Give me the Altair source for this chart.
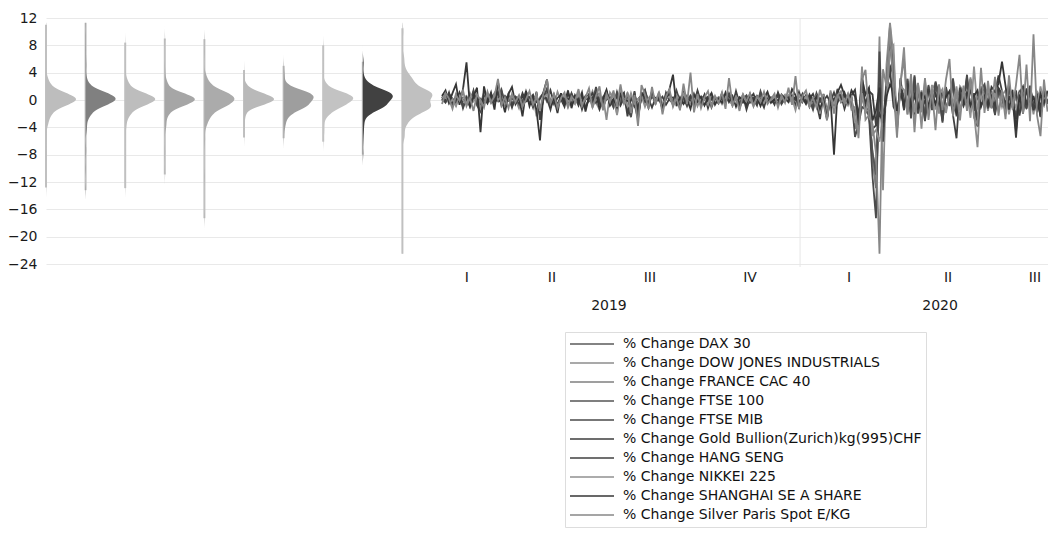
import altair as alt
import pandas as pd

series_names = [
    "% Change DAX 30",
    "% Change DOW JONES INDUSTRIALS",
    "% Change FRANCE CAC 40",
    "% Change FTSE 100",
    "% Change FTSE MIB",
    "% Change Gold Bullion(Zurich)kg(995)CHF",
    "% Change HANG SENG",
    "% Change NIKKEI 225",
    "% Change SHANGHAI SE A SHARE",
    "% Change Silver Paris Spot E/KG",
]
line_colors = ["#5a5a5a", "#8c8c8c", "#7f7f7f", "#555555", "#4a4a4a",
               "#3d3d3d", "#404040", "#909090", "#363636", "#878787"]
density_fills = ["#bdbdbd", "#808080", "#bdbdbd", "#a6a6a6", "#ababab",
                 "#b9b9b9", "#9e9e9e", "#c3c3c3", "#414141", "#c0c0c0"]

dax = [0.2, -0.1, 0.9, -0.5, 0.1, 0.6, -1.0, 0.3, -0.2, 1.2, -0.4, -1.4, 0.0, 0.3, -0.2, 0.8, 0.1, 1.3, -0.6, 0.2,
       -0.8, 0.4, 0.0, -0.3, 1.0, -0.1, -0.7, 0.5, -1.6, 0.2, 1.4, -0.3, 0.1, -1.0, 0.6, 0.0, -0.4, 0.9, -0.2, 0.3,
       -1.1, 0.1, 0.7, -0.2, 1.5, 0.0, -0.9, 0.3, 0.1, -0.6, 1.0, -0.2, 0.5, -1.3, -1.8, 1.1, -2.1, 0.4, 1.3, -0.3,
       0.6, -0.1, 0.2, -0.9, 0.8, 0.0, -0.4, 1.1, -0.2, 0.3, -0.7, 0.4, 0.0, 0.9, -0.5, 0.1, 0.3, -0.8, 0.2, -0.1,
       0.5, -0.3, 0.8, 0.0, 0.3, -0.9, 0.1, 0.5, -0.3, 0.0, -0.5, 1.0, -0.1, 0.4, -0.2, 0.1, 0.7, -0.4, 0.2, 0.3,
       -0.1, 0.2, -0.8, 0.6, -0.3, 0.1, -1.2, 0.8, -0.2, 0.4, -2.7, 0.9, -0.5, 1.3, -0.1, 0.5, -0.3, 0.2, -4.0, -3.2,
       1.5, -1.5, -1.9, -7.9, -12.8, 0.8, -5.3, 2.2, 11.0, 1.8, -3.6, 3.0, -1.2, 2.6, -2.4, 3.4, -1.8, 1.1, -2.9, 2.0,
       -1.3, 2.5, 0.6, -3.1, 1.7, -0.8, 2.9, -2.2, 1.2, -0.5, 3.4, -1.6, 0.9, -3.6, 1.4, 2.1, -1.1, 0.5, -2.0, 1.6,
       0.3, -1.4, 2.2, -0.7, -2.6, 1.0, 0.4, -1.2, 1.9, -0.6, 0.8, -2.3, 1.3, -0.4]
dow = [-0.2, 0.5, 0.1, -0.8, 0.9, 0.0, 0.3, 0.6, -1.0, 0.1, 0.4, -0.5, 1.1, -0.1, 0.2, -0.6, 0.7, 0.0, -0.3, 1.0,
       -0.4, 0.1, -1.2, 0.6, 0.0, 0.3, 0.7, -2.4, 0.4, 1.0, -0.3, 0.1, -0.7, 1.2, -0.1, 0.5, -1.1, 0.2, 0.6, -0.2,
       0.7, -0.9, 0.1, 1.3, -0.4, -1.4, 0.6, -2.9, 1.1, 0.3, -2.0, 1.4, -0.5, 1.0, -0.1, 0.4, -1.0, 0.8, 0.0, -0.6,
       0.9, -0.2, 0.5, -0.8, 0.1, 1.1, -0.4, 0.0, -1.2, 0.6, 0.2, -0.3, 1.0, 0.0, 0.4, -0.7, 0.1, 0.8, -0.2, 0.3,
       -0.6, 0.4, 0.0, -0.3, 0.9, -0.1, 0.2, -0.5, 0.8, 0.0, -0.2, 0.5, -0.8, 0.3, 0.1, -0.4, 1.0, 0.0, 0.2, 0.7,
       -0.3, 0.1, -0.8, 0.9, -0.2, 0.4, -1.5, 0.8, 0.0, -0.5, -2.1, 1.4, -0.4, 0.6, 0.1, -0.2, 0.9, -0.1, -3.6, -4.4,
       4.9, -2.9, -2.2, -7.8, -10.0, 9.3, -13.2, 5.2, 11.3, 6.4, -4.4, 2.2, 7.7, -1.8, 3.4, -2.6, 1.9, -4.2, 2.8, -1.4,
       1.6, 2.4, -2.0, 1.1, -1.5, 0.7, 3.2, -1.1, 2.0, 1.3, -0.6, 1.7, -1.9, -6.9, 2.0, 0.9, -1.6, 1.3, -0.7, 1.1,
       -1.0, 0.6, 1.5, -0.9, 0.4, -1.3, 2.0, -0.5, 0.8, -2.1, 1.2, 0.3, -0.8, 1.4]
cac = [0.1, -0.4, 0.8, 0.2, -0.5, 1.0, -0.1, 0.4, -0.9, 0.6, 0.0, -1.1, 0.3, -0.2, 0.8, 0.0, 1.1, -0.6, 0.1, 0.4,
       -0.7, 0.2, 0.5, -0.1, 0.9, -0.4, 0.0, 0.3, -1.6, 0.4, 1.2, -0.6, 0.1, -0.8, 0.4, 0.2, -0.3, 0.8, 0.0, 0.1,
       -1.0, 0.3, 0.6, -0.2, 1.4, -0.6, -0.4, 0.2, 0.0, -1.1, 0.9, -0.1, 0.7, -1.2, -2.0, 0.9, -1.8, 0.4, 1.1, -0.2,
       0.5, -0.3, 0.4, -0.9, 0.6, 0.2, -0.1, 1.0, -0.5, 0.1, -0.4, 0.7, 0.0, 0.6, -0.8, 0.3, 0.2, -0.6, 0.4, 0.0,
       0.3, -0.2, 0.6, -0.4, 0.1, -0.8, 0.4, 0.2, -0.1, 0.3, -0.4, 0.9, -0.3, 0.2, 0.0, 0.1, 0.5, -0.3, 0.0, 0.2,
       -0.2, 0.4, -0.7, 0.3, -0.5, 0.2, -1.0, 0.6, 0.0, 0.3, -2.6, 1.0, -0.4, 1.1, -0.3, 0.7, -0.2, 0.1, -4.1, -3.4,
       0.5, -1.8, -1.6, -8.4, -12.9, 1.8, -5.8, 2.8, 8.4, 4.5, -4.3, 2.4, -0.8, 3.1, -2.0, 2.7, -1.5, 1.4, -2.6, 1.9,
       -1.0, 2.2, 0.9, -2.8, 1.5, -0.5, 2.6, -1.9, 1.4, -0.3, 3.0, -1.4, 0.7, -3.2, 1.6, 1.8, -1.3, 0.8, -1.8, 1.3,
       0.5, -1.6, 2.0, -0.4, -2.3, 1.2, 0.2, -1.0, 1.7, -0.8, 0.6, -2.0, 1.1, -0.5]
ftse100 = [0.2, -0.3, 0.6, -0.1, 0.3, 0.7, -0.8, 0.0, -0.4, 0.9, -0.2, -0.9, 0.4, 0.1, -0.3, 0.6, 0.0, 0.8, -0.5, 0.1,
           -0.6, 0.3, 0.0, -0.2, 0.7, 0.0, -0.5, 0.6, -1.3, 0.1, 0.9, -0.3, 0.0, -0.7, 0.5, 0.0, -0.4, 0.7, -0.1, 0.2,
           -0.8, 0.1, 0.5, -0.1, 1.1, -0.2, -0.7, 0.1, 0.4, -0.6, 0.8, 0.0, 0.4, -1.1, -2.5, 0.9, -1.3, 0.6, 0.9, -0.4,
           0.5, 0.0, 0.2, -0.8, 0.7, 0.0, -0.4, 0.9, -0.1, 0.3, -0.6, 0.4, 0.0, 0.7, -0.5, 0.1, 0.4, -0.7, 0.2, 0.0,
           0.5, -0.4, 0.6, 0.0, 0.3, -0.7, 0.1, 0.4, -0.3, 0.0, -0.5, 0.8, -0.1, 0.4, -0.2, 0.0, 0.6, -0.4, 0.1, 0.3,
           -0.2, 0.4, -0.8, 0.5, -0.3, 0.1, -0.9, 0.7, -0.2, 0.4, -2.3, 0.6, -0.5, 1.0, -0.1, 0.5, -0.4, 0.2, -3.3, -3.5,
           1.1, -1.1, -1.5, -7.7, -10.9, 2.5, -4.0, 2.8, 9.0, 4.4, -3.8, 2.1, -1.0, 3.1, -1.7, 2.2, -1.4, 1.0, -2.3, 1.6,
           -1.1, 1.9, 0.5, -2.5, 1.3, -0.6, 2.4, -1.7, 1.0, -0.4, 2.8, -1.3, 0.7, -3.9, 1.2, 1.6, -0.9, 0.4, -1.6, 1.2,
           0.2, -1.2, 1.8, -0.6, -2.2, 0.9, 0.3, -1.0, 1.5, -0.5, 0.6, -1.9, 1.0, -0.3]
ftsemib = [0.4, -0.2, 1.1, -0.8, 0.1, 0.9, -1.2, 0.3, -0.4, 1.4, -0.8, -1.7, 0.6, 0.2, -0.3, 1.0, -0.1, 1.5, -0.6, 0.4,
           -1.1, 0.5, 0.1, -0.4, 1.3, -0.2, -0.8, 0.9, -2.3, 0.3, 1.7, -0.5, 0.0, -1.2, 0.8, 0.2, -0.6, 1.0, -0.3, 0.5,
           -1.4, 0.1, 0.9, -0.4, 1.9, -0.1, -1.1, 0.4, 0.2, -1.0, 1.2, -0.3, 0.6, -1.7, -2.2, 1.3, -2.5, 0.7, 1.5, -0.5,
           1.0, -0.2, 0.3, -1.3, 1.1, 0.1, -0.5, 1.4, -0.3, 0.4, -0.9, 0.6, -0.1, 1.2, -0.8, 0.2, 0.5, -1.1, 0.3, -0.2,
           0.8, -0.5, 1.0, -0.1, 0.4, -1.2, 0.2, 0.7, -0.4, 0.1, -0.8, 1.3, -0.2, 0.5, -0.3, 0.0, 0.9, -0.6, 0.2, 0.4,
           -0.1, 0.3, -1.1, 0.8, -0.4, 0.2, -1.4, 1.0, -0.3, 0.5, -2.9, 0.9, -0.7, 1.6, -0.2, 0.6, -0.5, 0.3, -5.4, -3.6,
           -1.0, -1.4, -2.3, -11.2, -17.3, 7.1, -6.1, 2.2, 8.9, 2.6, -4.0, 3.2, -1.4, 2.8, -2.7, 3.6, -2.0, 1.2, -3.1, 2.2,
           -1.5, 2.7, 0.7, -3.3, 1.9, -0.9, 3.1, -2.4, 1.3, -0.6, 3.7, -1.8, 1.0, -3.8, 1.5, 2.3, -1.2, 0.6, -2.2, 1.8,
           0.4, -1.5, 2.4, -0.8, -2.8, 1.1, 0.5, -1.3, 2.1, -0.7, 0.9, -2.5, 1.4, -0.5]
gold = [0.2, -0.1, 0.4, -0.3, 0.0, 0.5, -0.2, 0.1, -0.4, 0.3, 0.0, 0.2, -0.5, 0.1, 0.4, -0.2, 0.0, -0.3, 0.6, -0.1,
        0.3, -0.4, 0.1, 0.5, -0.2, 0.0, 0.7, -0.3, 0.2, 1.1, -0.1, 1.4, -0.5, 0.3, 0.8, -0.7, 0.2, -0.4, 0.5, 0.1,
        -0.3, 0.6, -0.2, 0.4, 1.0, -0.5, 0.2, 1.3, -0.6, 0.1, 0.4, -0.8, 0.3, -0.2, 0.5, -0.9, 0.1, 0.7, -0.4, 0.2,
        -1.1, 0.3, -0.1, 0.5, -0.7, 0.2, 0.4, -0.3, 0.1, -0.5, 0.6, -0.2, 0.0, -0.4, 0.3, 0.5, -0.2, 0.1, -0.3, 0.4,
        0.0, -0.2, 0.3, -0.1, 0.5, 0.2, -0.4, 0.1, 0.0, 0.3, 0.6, -0.2, 0.1, -0.3, 0.4, 0.2, -0.1, 0.5, -0.2, 0.3,
        0.7, 0.1, -0.4, 0.8, -0.3, 0.2, 0.9, -0.5, 0.3, -0.1, 0.6, -0.4, 0.2, 0.5, -0.2, 1.1, -0.3, 0.7, 1.5, -2.5,
        2.5, -0.6, 1.3, 0.8, -3.8, -2.0, -3.2, 1.5, 4.4, -1.0, -2.1, 1.8, 0.6, 2.4, -0.9, 1.1, -1.4, 0.7, -0.5, 1.6,
        -0.8, 0.9, -0.6, 1.2, -1.1, 0.4, -0.7, 1.0, 0.3, -0.9, 0.6, 1.3, -0.5, 0.2, 0.8, -0.4, 1.4, 0.6, -0.8, 1.7,
        0.9, -0.6, 1.8, 0.4, -5.5, 1.1, 2.0, -0.7, 1.2, -1.5, 0.5, -2.4, 1.0, 0.6]
hangseng = [0.5, -0.3, 0.9, 0.1, -0.7, 1.1, -0.2, 0.4, -1.0, 0.8, 0.0, -1.3, 0.3, -0.5, 0.9, -0.1, 1.2, -0.8, 0.2, 0.6,
            -0.9, 0.3, -0.6, 1.0, -0.2, 0.4, -1.1, 1.2, -2.9, 0.5, 0.2, -1.4, 0.8, -0.7, 0.1, -1.0, 1.1, -0.3, 0.4, -0.8,
            0.6, -1.2, 0.2, 1.0, -0.4, 0.3, -0.9, 1.3, -0.8, 0.1, -1.5, 0.5, 1.1, -2.4, 0.4, -0.6, -2.8, 0.9, 0.3, -1.1,
            1.2, -0.4, 0.6, -1.3, 0.3, 0.9, -0.7, 0.2, -1.0, 1.1, -0.1, 0.5, -0.9, 1.4, -0.3, 0.8, -1.2, 0.4, 0.1, -0.5,
            1.0, -0.2, 0.4, -0.8, 1.3, -0.5, 0.6, -1.4, 0.3, 0.9, -0.6, 0.1, -1.1, 0.8, 0.2, -0.7, 1.1, -0.3, 0.5, 0.2,
            0.4, -0.8, 1.2, -0.3, 0.7, -1.0, 0.2, -0.5, -2.8, 0.9, -1.6, -0.3, 1.1, -0.4, 0.8, -1.3, 0.3, -0.6, -1.8, -2.4,
            1.0, -1.2, 0.4, -4.2, -3.7, 1.4, -4.0, 1.2, 5.0, 3.8, -3.4, 2.0, -1.5, 2.2, 1.3, -2.1, 1.6, -1.0, 0.8, -1.7,
            1.4, -0.9, 2.0, -1.3, 0.6, 1.1, -2.2, -5.6, 1.8, 0.7, -1.0, 3.1, -1.6, 1.2, -0.8, 0.5, 1.7, -1.2, 0.9, 3.6,
            1.3, -2.0, 0.6, -1.1, 1.4, -2.3, 0.8, -0.5, 1.0, -1.4, 0.4, -0.9, 1.5, -0.6]
nikkei = [0.3, 0.8, -0.5, 0.1, -0.9, 0.6, 0.0, -0.7, 1.0, -0.2, 0.4, -1.2, 0.2, 0.7, -0.4, 0.9, 0.0, 0.5, -0.8, 0.1,
          0.7, -0.5, 0.2, -1.0, 0.6, 0.0, -0.4, 0.9, -1.6, 0.4, 0.8, -0.7, 0.1, -0.9, 0.3, 0.6, -0.2, 0.0, -0.6, 1.0,
          -0.8, 0.2, 0.6, -1.1, 0.3, 0.9, -1.4, 0.5, -0.1, 0.7, -2.2, 0.8, 0.2, -0.9, 1.0, -0.5, 0.1, 0.6, -1.0, 0.3,
          0.8, -0.1, 1.1, -0.6, 0.2, 0.5, -0.8, 0.7, -0.2, 0.9, 0.0, -0.5, 0.6, -0.9, 0.3, 0.1, -0.7, 1.0, -0.3, 0.4,
          -0.4, 0.7, 0.1, -0.8, 0.5, 0.0, 0.8, -0.5, 0.2, -0.9, 0.6, 0.0, -0.4, 0.7, -0.1, 0.5, -0.7, 0.2, 0.8, -0.3,
          0.3, -1.5, 0.7, -0.2, 0.5, -0.9, 0.1, 0.6, -2.0, 0.8, -1.8, 0.3, -0.6, 0.9, -0.3, 0.2, -0.8, 0.4, -3.3, -3.7,
          1.0, -2.0, 0.9, -5.1, -4.4, -6.1, -2.5, -0.1, 7.1, 8.0, -4.5, 2.0, 1.5, -2.1, 3.0, -1.8, 2.4, -1.3, 1.9, -0.9,
          2.2, -1.4, 0.8, 1.6, -1.9, 1.2, -0.7, 2.0, -1.5, 0.9, 1.3, -2.6, 4.9, -1.4, 0.6, -1.1, 1.8, -0.8, 1.0, -1.6,
          0.7, 1.4, -2.1, 0.5, -1.2, 0.9, -0.4, 1.6, -0.9, 0.3, -1.3, 2.0, -0.6, 0.8]
shanghai = [0.6, 1.4, -0.4, 1.0, 2.3, -0.7, 1.6, 5.5, -1.0, 0.5, 1.8, -4.7, 2.0, -0.3, 1.1, -1.4, 2.6, 0.2, -1.8, 0.9,
            1.9, -0.6, 0.4, -2.4, 1.3, -0.9, 0.6, -1.5, -5.9, 1.2, 3.0, -1.1, 0.3, -1.9, 1.0, -0.5, 1.4, -1.2, 0.7, -0.3,
            1.1, -1.7, 0.5, -0.4, 0.9, -1.3, 0.2, 1.5, -0.7, 0.1, -1.0, 0.8, -0.2, 0.6, -1.5, 0.3, -1.3, 1.0, 0.4, -0.8,
            1.3, -0.5, 0.7, -1.1, 0.2, 1.6, 3.7, -0.9, 0.4, -0.6, 0.1, -1.3, 0.8, -0.2, 0.5, -0.8, 0.3, 1.0, -0.7, 0.2,
            -0.4, 1.1, -0.3, 0.6, -1.0, 0.4, 0.0, -0.7, 0.9, -0.2, 0.5, -0.9, 0.3, 1.2, -0.4, 0.1, -0.6, 0.8, 0.2, -0.3,
            1.6, 0.7, -0.9, 0.4, -0.6, 0.8, -0.2, 0.5, -1.3, 0.1, -2.6, 0.3, -8.0, 1.1, 2.2, 0.7, -0.4, 1.4, 0.5, -3.7,
            3.1, 0.8, 1.8, -3.0, -1.5, 1.8, -3.4, 0.5, 2.3, 1.2, -1.6, 1.0, -0.7, 1.4, -1.0, 0.6, -1.3, 0.9, 0.4, -0.8,
            1.0, -0.6, 0.8, -1.2, 0.5, 1.3, -0.9, -1.9, 0.7, -0.4, 1.1, -0.8, 0.6, 1.4, -1.0, 0.5, -0.7, 1.9, 1.2, 2.4,
            5.6, 2.1, -1.4, 1.5, -4.5, 0.8, -2.0, 1.7, -1.1, 0.6, -1.8, 0.9, -0.5, 1.3]
silver = [-0.6, 1.0, 0.2, -1.3, 0.7, -0.1, 1.4, -0.9, 0.3, -1.6, 0.8, 0.0, -1.1, 1.2, -0.4, 0.6, 3.1, -0.8, 0.4, -1.2,
          0.9, -0.3, 0.7, -1.0, 0.1, 1.3, -0.7, 0.4, -1.4, 1.0, 3.0, -0.5, 0.8, -1.2, 0.3, 1.1, -0.9, 0.5, -0.2, 1.6,
          -0.8, 0.4, 1.7, -1.1, 0.6, 2.0, -1.5, 0.9, -0.3, 1.4, -1.0, 2.3, -0.6, 1.1, -1.9, 0.7, -3.8, 2.2, 0.8, -1.3,
          1.9, -0.7, 1.2, -2.1, 0.5, 1.6, -1.0, 0.3, -1.5, 2.4, -0.6, 4.0, -1.8, 0.9, -1.2, 0.4, 1.3, -0.9, 0.6, -0.4,
          1.1, -1.3, 3.2, -0.7, 0.4, -1.6, 0.8, -0.2, 1.0, -0.9, 0.5, -0.3, 1.2, -0.6, 0.1, 0.9, -1.1, 0.7, -0.4, 1.8,
          -0.7, 3.5, -1.2, 0.6, 1.4, -0.8, 0.3, -1.1, 1.5, -0.5, -3.0, 1.0, -2.0, 0.7, 1.3, -0.6, 0.9, -1.4, -1.0, -5.6,
          3.0, 4.4, -2.5, -3.5, -7.8, -22.5, 4.5, 2.0, 10.5, 1.5, -5.5, 2.6, 6.0, -2.1, 3.8, -4.7, 2.5, -1.8, 3.2, -2.9,
          1.6, -4.4, 2.3, -1.5, 3.0, 6.0, -2.4, 1.2, -3.0, 2.1, -1.6, 3.3, -2.6, -3.5, 4.7, -1.9, 2.8, -1.2, 3.4, -2.3,
          1.5, -2.8, 3.6, -1.4, 2.2, 6.6, -2.0, 5.2, -3.1, 9.6, -2.2, -5.3, 3.0, -1.7]

all_series = [dax, dow, cac, ftse100, ftsemib, gold, hangseng, nikkei, shanghai, silver]

y_ticks = [-24, -20, -16, -12, -8, -4, 0, 4, 8, 12]
quarter_labels = ["I", "II", "III", "IV", "I", "II", "III"]
quarter_obs = [7.1, 31.4, 59.4, 88.0, 116.3, 144.6, 169.4]
year_labels = ["2019", "2020"]
year_obs = [47.7, 142.3]
year_break_obs = [102.3]

# ---- layout constants (x in plot units) ----
TS_START = 396.0   # x of first observation
STEP = 3.5         # x units per observation
SLOT = 39.6        # spacing of the distribution panels
PEAK = 30.0        # width of each distribution at its peak
FONT = "DejaVu Sans"

rows = []
for k, (name, vals) in enumerate(zip(series_names, all_series)):
    for i, v in enumerate(vals):
        rows.append({"series": name, "k": k, "i": i, "value": v})
df = pd.DataFrame(rows)

x_scale = alt.Scale(domain=[0, 1002], nice=False, zero=False)
y_scale = alt.Scale(domain=[-24, 12], nice=False, zero=False)
y_axis = alt.Axis(values=y_ticks, grid=True, gridColor="#e9e9e9", domain=False,
                  ticks=False, labelFont=FONT, labelFontSize=14, labelPadding=9,
                  labelColor="#1a1a1a", title=None)

base = alt.Chart(df)

lines = base.transform_calculate(
    pos=f"{TS_START} + {STEP} * datum.i"
).mark_line(strokeWidth=1.8, clip=True).encode(
    x=alt.X("pos:Q", scale=x_scale, axis=None),
    y=alt.Y("value:Q", scale=y_scale, axis=y_axis),
    color=alt.Color("series:N",
                    scale=alt.Scale(domain=series_names, range=line_colors),
                    legend=alt.Legend(orient="none", legendX=519, legendY=314, title=None,
                                      symbolType="stroke", symbolSize=1936,
                                      symbolStrokeWidth=1.6, clipHeight=16, rowPadding=3,
                                      labelFont=FONT, labelFontSize=14, labelColor="#111111",
                                      labelOffset=8, labelLimit=420, padding=4,
                                      strokeColor="#dddddd", fillColor="#ffffff")),
    order="i:Q",
)

dens = base.transform_density(
    "value", groupby=["series", "k"], steps=300, bandwidth=0.65, as_=["value", "density"]
).transform_joinaggregate(
    maxd="max(density)", groupby=["series"]
).transform_calculate(
    x0=f"datum.k * {SLOT}",
    x1=f"datum.k * {SLOT} + {PEAK} * datum.density / datum.maxd",
).mark_area(orient="horizontal").encode(
    y=alt.Y("value:Q", scale=y_scale, axis=y_axis),
    x=alt.X("x1:Q", scale=x_scale, axis=None),
    x2="x0:Q",
    color=alt.Color("series:N", scale=alt.Scale(domain=series_names, range=density_fills),
                    legend=None),
)

stems = base.transform_aggregate(
    vmin="min(value)", vmax="max(value)", groupby=["series", "k"]
).transform_calculate(
    x0=f"datum.k * {SLOT}"
).mark_rule(color="#c0c0c0", strokeWidth=2).encode(
    x=alt.X("x0:Q", scale=x_scale, axis=None),
    y=alt.Y("vmin:Q", scale=y_scale, axis=y_axis),
    y2="vmax:Q",
)

year_rule = alt.Chart(pd.DataFrame({"obs": year_break_obs})).transform_calculate(
    pos=f"{TS_START} + {STEP} * datum.obs"
).mark_rule(color="#e6e6e6", strokeWidth=1).encode(
    x=alt.X("pos:Q", scale=x_scale, axis=None),
    y=alt.value(0),
    y2=alt.value(249),
)

qtext = alt.Chart(pd.DataFrame({"label": quarter_labels, "obs": quarter_obs})).transform_calculate(
    pos=f"{TS_START} + {STEP} * datum.obs"
).mark_text(font=FONT, fontSize=14, baseline="middle", color="#1a1a1a").encode(
    x=alt.X("pos:Q", scale=x_scale, axis=None),
    y=alt.value(260),
    text="label:N",
)

ytext = alt.Chart(pd.DataFrame({"label": year_labels, "obs": year_obs})).transform_calculate(
    pos=f"{TS_START} + {STEP} * datum.obs"
).mark_text(font=FONT, fontSize=14, baseline="middle", color="#1a1a1a").encode(
    x=alt.X("pos:Q", scale=x_scale, axis=None),
    y=alt.value(288),
    text="label:N",
)

chart = alt.layer(year_rule, stems, dens, lines, qtext, ytext).resolve_scale(
    color="independent"
).properties(
    width=1002, height=246,
    autosize=alt.AutoSizeParams(type="none"),
    padding={"left": 38, "top": 10, "right": 0, "bottom": 264},
    background="white",
).configure_view(stroke=None)

chart.save("out.html", embed_options={"renderer": "svg", "actions": False})
